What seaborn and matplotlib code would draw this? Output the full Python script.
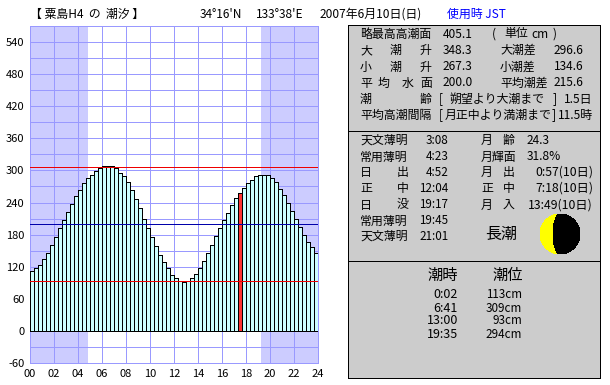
import numpy as np
import pandas as pd
import matplotlib
matplotlib.use("Agg")
import matplotlib.pyplot as plt
from matplotlib.patches import Rectangle, Circle, Wedge, Ellipse
import seaborn as sns

# ---------- data ----------
tide_cm = [112, 117, 124, 134, 145, 160, 175, 192, 208, 223, 238, 253,
           264, 276, 285, 292, 298, 304, 308, 308, 308, 304, 296, 289,
           278, 263, 246, 229, 210, 192, 175, 158, 141, 128, 117, 105,
           98, 94, 92, 94, 98, 107, 117, 130, 145, 160, 177, 192,
           207, 221, 235, 248, 257, 268, 276, 283, 289, 292, 292, 291,
           285, 278, 266, 255, 240, 225, 210, 195, 180, 167, 156, 145]
current_index = 52
bars_per_hour = 3
sunrise_hour = 4 + 52 / 60
sunset_hour = 19 + 17 / 60
red_levels = [306, 92.5]
blue_levels = [200]
x_ticks = list(range(0, 25, 2))
x_labels = [f"{h:02d}" for h in x_ticks]
y_ticks = list(range(-60, 541, 60))
y_grid = list(range(-60, 571, 30))

title = "【 粟島H4  の  潮汐 】"
lat_text = "34°16'N"
lon_text = "133°38'E"
date_text = "2007年6月10日(日)"
zone_text = "使用時 JST"

# ---------- colours / fonts ----------
grid_c = "#9999FF"
shade_c = "#CCCCFF"
bar_c = "#CCFFFF"
now_c = "#FF3333"
panel_c = "#CCCCCC"
thin = 0.6

W, H = 610, 385
sns.set_theme(style="white")
plt.rcParams["font.family"] = ["Noto Sans CJK JP", "DejaVu Sans"]
plt.rcParams["lines.antialiased"] = False
plt.rcParams["patch.antialiased"] = False

fig = plt.figure(figsize=(W / 100, H / 100), dpi=100, facecolor="white")
L, R, T, B = 30, 318, 26, 363
ax = fig.add_axes([L / W, 1 - B / H, (R - L) / W, (B - T) / H])

df = pd.DataFrame({
    "hour": (np.arange(len(tide_cm)) + 0.5) / bars_per_hour,
    "tide": tide_cm,
    "kind": ["now" if i == current_index else "other" for i in range(len(tide_cm))],
})
sns.barplot(data=df, x="hour", y="tide", hue="kind", native_scale=True, dodge=False,
            palette={"now": now_c, "other": bar_c}, width=1, saturation=1,
            edgecolor="black", linewidth=thin, legend=False, ax=ax, zorder=3)
for bar in ax.patches:
    bar.set_antialiased(False)

ax.axvspan(0, sunrise_hour, color=shade_c, lw=0, zorder=0, antialiased=False)
ax.axvspan(sunset_hour, 24, color=shade_c, lw=0, zorder=0, antialiased=False)
ax.set_xlim(0, 24)
ax.set_ylim(-60, 570)
ax.set_xticks(x_ticks, x_labels)
ax.set_yticks(y_grid, [str(v) if v in y_ticks else "" for v in y_grid])
ax.grid(True, color=grid_c, lw=thin, zorder=1)
ax.set_axisbelow(True)
ax.tick_params(length=0, labelsize=8, colors="black")
ax.tick_params(axis="y", pad=4)
ax.tick_params(axis="x", pad=4)
ax.set_xlabel("")
ax.set_ylabel("")
for s in ax.spines.values():
    s.set_color(grid_c)
    s.set_linewidth(thin)
    s.set_antialiased(False)
for v in red_levels:
    ax.axhline(v, color="#EE0000", lw=thin, zorder=5)
for v in blue_levels:
    ax.axhline(v, color="#0000AA", lw=thin, zorder=5)

# ---------- overlay in pixel coordinates ----------
ov = fig.add_axes([0, 0, 1, 1], facecolor="none")
ov.set_xlim(0, W)
ov.set_ylim(H, 0)
ov.axis("off")


def t(x, y, s, size=8.6, ha="left", color="black"):
    ov.text(x, y, s, fontsize=size, ha=ha, va="center", color=color)


t(30, 14, title)
t(200, 14, lat_text, 8.5)
t(256, 14, lon_text, 8.6)
t(320, 14, date_text, 8.6)
t(447, 14, zone_text, 8.6, color="#0000FF")

# panels
for y0, y1 in [(24.5, 130.5), (130.5, 260.5), (260.5, 377.5)]:
    ov.add_patch(Rectangle((347.5, y0), 252.5, y1 - y0, fc=panel_c, ec="black", lw=thin,
                           antialiased=False))

rows1 = [34, 50.5, 67, 83, 99, 115]
t(360, rows1[0], "略最高高潮面")
t(443, rows1[0], "405.1")
t(492, rows1[0], "(")
t(504, rows1[0], "単位")
t(531, rows1[0], "cm")
t(553, rows1[0], ")")
for x, c in zip((360, 390, 420), "大潮升"):
    t(x, rows1[1], c)
t(443, rows1[1], "348.3")
t(500, rows1[1], "大潮差")
t(554, rows1[1], "296.6")
for x, c in zip((360, 390, 420), "小潮升"):
    t(x, rows1[2], c)
t(443, rows1[2], "267.3")
t(500, rows1[2], "小潮差")
t(554, rows1[2], "134.6")
for x, c in zip((360, 378, 402, 420), "平均水面"):
    t(x, rows1[3], c)
t(443, rows1[3], "200.0")
t(500, rows1[3], "平均潮差")
t(554, rows1[3], "215.6")
t(360, rows1[4], "潮")
t(420, rows1[4], "齢")
t(439, rows1[4], "[")
t(449, rows1[4], "朔望より大潮まで")
t(553, rows1[4], "]")
t(564, rows1[4], "1.5日")
t(360, rows1[5], "平均高潮間隔")
t(439, rows1[5], "[")
t(445, rows1[5], "月正中より満潮まで")
t(552, rows1[5], "]")
t(558, rows1[5], "11.5時")

rows2 = [140.5, 157, 172.5, 188.5, 205, 221, 236.5]
left_labels = ["天文薄明", "常用薄明", "日", "正", "日", "常用薄明", "天文薄明"]
left_second = [None, None, "出", "中", "没", None, None]
left_times = ["3:08", "4:23", "4:52", "12:04", "19:17", "19:45", "21:01"]
for y, a, b, v in zip(rows2, left_labels, left_second, left_times):
    t(360, y, a)
    if b:
        t(397, y, b)
    t(448.5, y, v, 8.4, ha="right")
right_first = ["月", "月輝面", "月", "正", "月"]
right_second = ["齢", None, "出", "中", "入"]
right_vals = ["24.3", "31.8%", "0:57(10日)", "7:18(10日)", "13:49(10日)"]
for i, (a, b, v) in enumerate(zip(right_first, right_second, right_vals)):
    y = rows2[i]
    t(481, y, a)
    if b:
        t(503, y, b)
    if i < 2:
        t(527, y, v, 8.6)
    else:
        t(593, y, v, 8.8, ha="right")
t(501, 234, "長潮", 11.5, ha="center")

# moon
mx, my, mr = 560, 234, 20
ov.add_patch(Circle((mx, my), mr, fc="#FFFF00", ec="none"))
ov.add_patch(Wedge((mx, my), mr, -90, 90, fc="black", ec="none"))
ov.add_patch(Ellipse((mx, my), 14, 2 * mr, fc="black", ec="none"))

# tide table
t(443, 275, "潮時", 11, ha="center")
t(508, 275, "潮位", 11, ha="center")
event_times = ["0:02", "6:41", "13:00", "19:35"]
event_levels = ["113cm", "309cm", "93cm", "294cm"]
for y, a, b in zip([295, 308, 321, 334], event_times, event_levels):
    t(458, y, a, 9, ha="right")
    t(522, y, b, 8.4, ha="right")

fig.savefig("out.png", dpi=100, facecolor="white")
